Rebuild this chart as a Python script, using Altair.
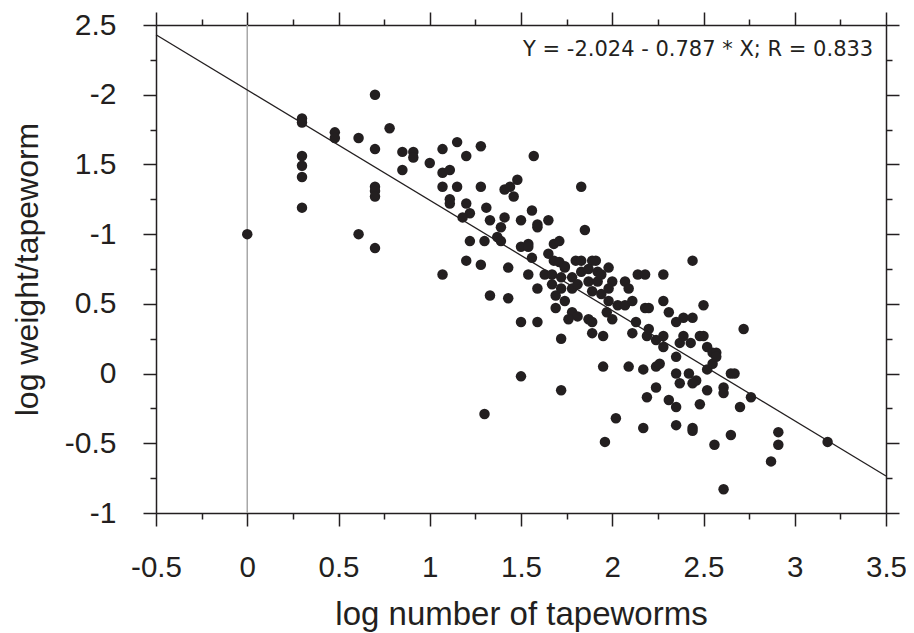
import json
import altair as alt
import pandas as pd

# ---- data ----
worms_x = [0.00, 0.30, 0.30, 0.30, 0.30, 0.30, 0.30, 0.48, 0.48, 0.61, 0.61, 0.70, 0.70, 0.70, 0.70,
           0.70, 0.70, 0.78, 0.85, 0.85, 0.91, 0.91, 1.00, 1.07, 1.07, 1.11, 1.15, 1.20, 1.28, 1.07,
           1.15, 1.28, 1.11, 1.11, 1.20, 1.22, 1.18, 1.31, 1.33, 1.41, 1.39, 1.41, 1.44, 1.46, 1.48,
           1.50, 1.22, 1.30, 1.37, 1.39, 1.50, 1.20, 1.28, 1.43, 1.57, 1.56, 1.59, 1.59, 1.65, 1.54,
           1.54, 1.56, 1.68, 1.65, 1.68, 1.07, 1.54, 1.63, 1.67, 1.59, 1.67, 1.33, 1.43, 1.69, 1.69,
           1.83, 1.85, 1.71, 2.44, 1.71, 1.74, 1.80, 1.83, 1.89, 1.91, 1.83, 1.87, 1.92, 1.98, 1.74,
           1.72, 1.78, 1.72, 1.78, 1.81, 1.87, 1.92, 1.94, 2.00, 1.89, 1.94, 1.98, 2.07, 2.09, 2.14,
           2.18, 2.28, 1.74, 1.78, 1.98, 1.97, 2.03, 2.07, 2.11, 2.18, 2.20, 2.28, 2.31, 2.50, 2.39,
           2.44, 1.50, 1.50, 1.30, 1.59, 1.72, 1.72, 1.81, 1.76, 1.87, 1.89, 1.89, 1.95, 2.00, 1.95,
           1.96, 2.02, 2.09, 2.11, 2.13, 2.35, 2.19, 2.20, 2.17, 2.24, 2.26, 2.24, 2.28, 2.28, 2.35,
           2.37, 2.39, 2.43, 2.35, 2.42, 2.46, 2.44, 2.37, 2.19, 2.24, 2.31, 2.35, 2.17, 2.35, 2.44,
           2.44, 2.48, 2.52, 2.52, 2.48, 2.50, 2.52, 2.55, 2.57, 2.55, 2.56, 2.65, 2.61, 2.61, 2.65,
           2.67, 2.61, 2.72, 2.76, 2.70, 2.91, 2.91, 2.87, 3.18, 2.57]
weight_y = [1.00, 1.83, 1.80, 1.56, 1.49, 1.41, 1.19, 1.73, 1.69, 1.69, 1.00, 2.00, 1.61, 1.34, 1.31,
            1.27, 0.90, 1.76, 1.59, 1.46, 1.59, 1.55, 1.51, 1.61, 1.44, 1.46, 1.66, 1.56, 1.63, 1.34,
            1.34, 1.34, 1.25, 1.22, 1.22, 1.15, 1.12, 1.19, 1.10, 1.12, 1.05, 1.32, 1.34, 1.27, 1.39,
            1.10, 0.95, 0.95, 0.98, 0.95, 0.91, 0.81, 0.78, 0.76, 1.56, 1.17, 1.07, 1.05, 1.10, 0.93,
            0.91, 0.83, 0.93, 0.86, 0.81, 0.71, 0.71, 0.71, 0.71, 0.61, 0.64, 0.56, 0.54, 0.56, 0.47,
            1.34, 1.03, 0.95, 0.81, 0.80, 0.77, 0.81, 0.81, 0.81, 0.81, 0.73, 0.75, 0.73, 0.76, 0.76,
            0.69, 0.69, 0.61, 0.61, 0.64, 0.66, 0.66, 0.71, 0.66, 0.59, 0.57, 0.61, 0.66, 0.61, 0.71,
            0.71, 0.71, 0.52, 0.44, 0.52, 0.44, 0.49, 0.49, 0.52, 0.47, 0.47, 0.52, 0.44, 0.49, 0.40,
            0.40, 0.37, -0.02, -0.29, 0.37, 0.25, -0.12, 0.41, 0.39, 0.39, 0.37, 0.29, 0.27, 0.39, 0.05,
            -0.49, -0.32, 0.05, 0.29, 0.37, 0.37, 0.27, 0.32, 0.03, 0.05, 0.07, 0.24, 0.27, 0.19, 0.12,
            0.22, 0.27, 0.22, 0.00, 0.00, -0.05, -0.07, -0.07, -0.17, -0.10, -0.19, -0.24, -0.39, -0.37, -0.39,
            -0.41, -0.22, -0.12, 0.03, 0.27, 0.27, 0.19, 0.15, 0.15, 0.07, -0.51, -0.44, -0.10, -0.14, 0.00,
            0.00, -0.83, 0.32, -0.17, -0.24, -0.42, -0.51, -0.63, -0.49, 0.12]

fit_x = [-0.5, 3.5]
fit_y = [2.43, -0.735]
zero_x = [0.0]

x_tick_values = [-0.5, 0, 0.5, 1, 1.5, 2, 2.5, 3, 3.5]
x_tick_labels = ["-0.5", "0", "0.5", "1", "1.5", "2", "2.5", "3", "3.5"]
y_tick_values = [2.5, 2, 1.5, 1, 0.5, 0, -0.5, -1]
y_tick_labels = ["2.5", "-2", "1.5", "-1", "0.5", "0", "-0.5", "-1"]
x_minor = [-0.5 + 0.25 * i for i in range(17)]
y_minor = [-1 + 0.25 * i for i in range(15)]

annotation = ["Y = -2.024 - 0.787 * X; R = 0.833"]
annotation_x = [3.43]
annotation_y = [2.275]

x_title = "log number of tapeworms"
y_title = "log weight/tapeworm"

# ---- tables ----
pts = pd.DataFrame({"x": worms_x, "y": weight_y})
fit = pd.DataFrame({"x": fit_x, "y": fit_y})
zero = pd.DataFrame({"x": zero_x})
note = pd.DataFrame({"x": annotation_x, "y": annotation_y, "t": annotation})

FONT = "Liberation Sans"
INK = "#231f20"


def label_expr(vals, labels):
    v = json.dumps(vals)
    l = json.dumps(labels)
    return f"indexof({v}, datum.value) >= 0 ? {l}[indexof({v}, datum.value)] : ''"


major_test = "abs(datum.value * 2 - round(datum.value * 2)) < 0.001"
tick_size = {"condition": {"test": major_test, "value": 13}, "value": 6}

xscale = alt.Scale(domain=[-0.5, 3.5], nice=False, zero=False)
yscale = alt.Scale(domain=[-1, 2.5], nice=False, zero=False)

axis_common = dict(grid=False, domainColor=INK, domainWidth=1.5, tickColor=INK, tickWidth=1.5,
                   tickSize=tick_size)

x_bottom = alt.Axis(orient="bottom", values=x_minor, labelExpr=label_expr(x_tick_values, x_tick_labels),
                    labelFont=FONT, labelFontSize=29.5, labelColor=INK, labelPadding=27,
                    labelBaseline="top", labelFlush=False, labelOverlap=False,
                    title=x_title, titleFont=FONT, titleFontSize=33, titleFontWeight="normal",
                    titleColor=INK, titlePadding=17, **axis_common)
y_left = alt.Axis(orient="left", values=y_minor, labelExpr=label_expr(y_tick_values, y_tick_labels),
                  labelFont=FONT, labelFontSize=30, labelColor=INK, labelPadding=27,
                  labelFlush=False, labelOverlap=False,
                  title=y_title, titleFont=FONT, titleFontSize=32, titleFontWeight="normal",
                  titleColor=INK, titlePadding=20, **axis_common)
x_top = alt.Axis(orient="top", values=x_minor, labels=False, title=None, **axis_common)
y_right = alt.Axis(orient="right", values=y_minor, labels=False, title=None, **axis_common)

zero_rule = alt.Chart(zero).mark_rule(color="#a8a8a8", strokeWidth=1.5).encode(
    x=alt.X("x:Q", scale=xscale, axis=x_bottom),
    y=alt.value(0), y2=alt.value(488),
)

fit_line = alt.Chart(fit).mark_line(color=INK, strokeWidth=1.3).encode(
    x=alt.X("x:Q", scale=xscale, axis=x_top),
    y=alt.Y("y:Q", scale=yscale, axis=y_left),
)

dots = alt.Chart(pts).mark_circle(size=110, color=INK, opacity=1).encode(
    x=alt.X("x:Q", scale=xscale, axis=None),
    y=alt.Y("y:Q", scale=yscale, axis=y_right),
)

text = alt.Chart(note).mark_text(font="DejaVu Sans", fontSize=21, color=INK, align="right",
                                 baseline="alphabetic").encode(
    x=alt.X("x:Q", scale=xscale, axis=None),
    y=alt.Y("y:Q", scale=yscale, axis=None),
    text="t:N",
)

chart = alt.layer(zero_rule, fit_line, dots, text).resolve_axis(
    x="independent", y="independent"
).properties(
    width=730, height=488,
    autosize=alt.AutoSizeParams(type="none"),
    padding={"left": 148, "top": 17, "right": 20, "bottom": 120},
).configure_view(stroke=None).configure(background="white")

chart.save("out.html", embed_options={"renderer": "svg", "actions": False})
